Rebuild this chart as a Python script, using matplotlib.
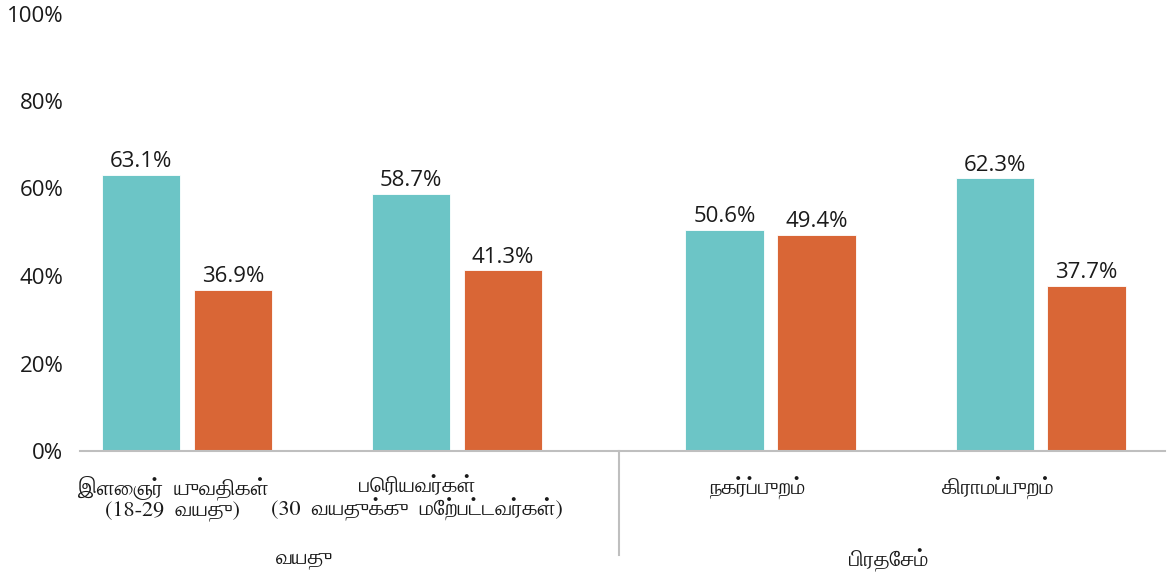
import matplotlib
matplotlib.use("Agg")
import matplotlib.pyplot as plt
import numpy as np

# data
categories = ["இளைஞர்  யுவதிகள்\n(18-29  வயது)",
              "பெரியவர்கள்\n(30  வயதுக்கு  மேற்பட்டவர்கள்)",
              "நகர்ப்புறம்",
              "கிராமப்புறம்"]
groups = ["வயது", "பிரதேசம்"]
series_a = [63.1, 58.7, 50.6, 62.3]
series_b = [36.9, 41.3, 49.4, 37.7]
yticks = [0, 20, 40, 60, 80, 100]

teal = "#6CC5C6"
orange = "#D96636"
num_font = "Open Sans"
tamil_font = ["FreeSerif", "DejaVu Sans"]

fig = plt.figure(figsize=(11.69, 5.77), dpi=100)
ax = fig.add_axes([80 / 1169, 126 / 577, 1085 / 1169, 437.5 / 577])

gap = 0.16
x = np.arange(len(categories)) + np.array([0, 0, gap, gap])
w = 0.29
off = 0.17

b1 = ax.bar(x - off, series_a, w, color=teal, edgecolor="white", linewidth=0.6)
b2 = ax.bar(x + off, series_b, w, color=orange, edgecolor="white", linewidth=0.6)
for bars in (b1, b2):
    ax.bar_label(bars, labels=[f"{v:.1f}%" for v in bars.datavalues], padding=2,
                 fontsize=16, family=num_font, color="#1a1a1a")

ax.set_xlim(-0.396, 3.62)
ax.set_ylim(0, 100)
ax.set_yticks(yticks)
ax.set_yticklabels([f"{t}%" for t in yticks], family=num_font, fontsize=16, color="#1a1a1a")
ax.tick_params(axis="y", length=0, pad=12)
ax.set_xticks([])

for s in ["top", "right", "left"]:
    ax.spines[s].set_visible(False)
ax.spines["bottom"].set_color("#BFBFBF")
ax.spines["bottom"].set_linewidth(1.5)

# category labels (multi-level axis)
label_shift = [-0.052, -0.148, -0.049, -0.16]
tr = ax.get_xaxis_transform()
for xi, sh, lab in zip(x, label_shift, categories):
    ax.text(xi + sh, -0.058, lab, transform=tr, ha="center", va="top",
            fontsize=16, family=tamil_font, linespacing=1.0, color="#1a1a1a")

group_x = [0.437, 2.596]
for gx, g in zip(group_x, groups):
    ax.text(gx, -0.25, g, transform=tr, ha="center", va="center",
            fontsize=16, family=tamil_font, color="#1a1a1a")

# separator between the two groups
ax.plot([1.6, 1.6], [0, -0.238], transform=tr, color="#BFBFBF", lw=1.5, clip_on=False)

fig.savefig("out.png", dpi=100)
